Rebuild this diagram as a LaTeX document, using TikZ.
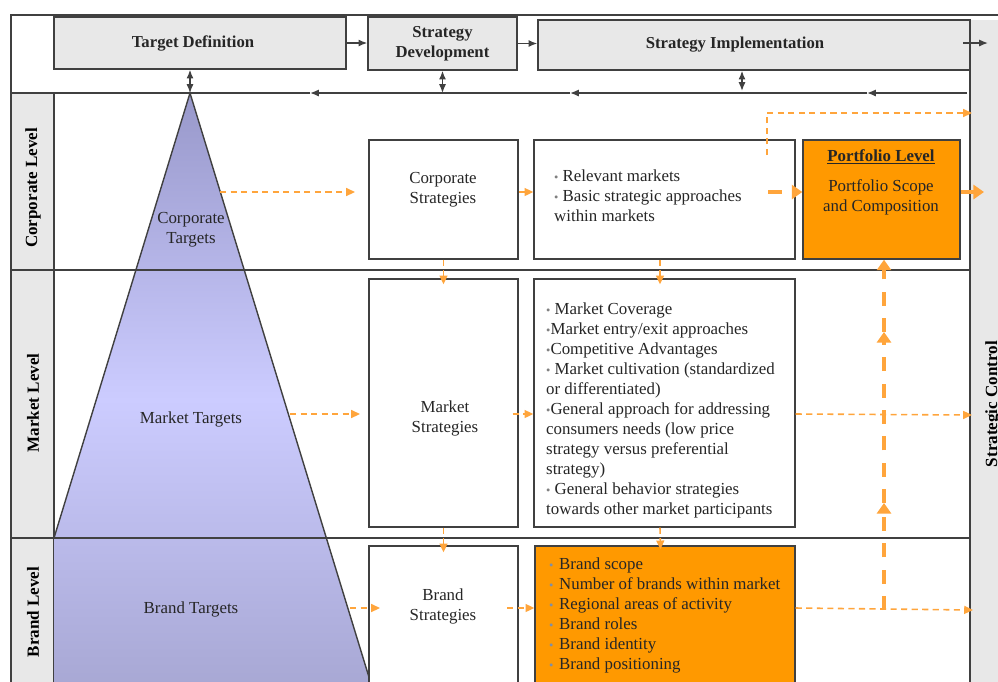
\documentclass[tikz,border=0pt]{standalone}
\usepackage{fontspec}
\setmainfont{Liberation Serif}
\usepackage{tikz}
\usetikzlibrary{arrows.meta,positioning}

\definecolor{hdrgray}{HTML}{E8E8E8}
\definecolor{linegray}{HTML}{404040}
\definecolor{boxorange}{HTML}{FF9900}
\definecolor{floworange}{HTML}{FFA53C}
\definecolor{dotgray}{HTML}{7F8FA6}
\definecolor{txtgray}{HTML}{262626}
\definecolor{pyrtop}{HTML}{9898CA}
\definecolor{pyrmid}{HTML}{CCCCFF}
\definecolor{pyrbot}{HTML}{A6A6D2}

\newcommand{\bdot}{{\color{gray}\scriptsize\textbullet}}
\newcommand{\bitem}{\makebox[0.2cm][l]{\color{dotgray}\scriptsize\textbullet}}

\begin{document}
\begin{tikzpicture}[
        x=0.02cm, y=-0.02cm,
        >={Latex[length=5pt,width=4pt]},
        font=\fontsize{9.6}{11.38}\selectfont,
        every node/.style={text=txtgray},
        rule/.style={draw=linegray, line width=0.8pt},
        wire/.style={color=linegray, line width=0.8pt},
        head/.style={rule, fill=hdrgray, align=center, inner sep=0pt, font=\fontsize{9.5}{11.38}\selectfont\bfseries},
        box/.style={rule, fill=white, inner sep=0pt},
        obox/.style={box, fill=boxorange},
        side/.style={rotate=90, font=\fontsize{9.7}{11.38}\selectfont\bfseries, text=black},
        flow/.style={draw=floworange, line width=0.9pt, dash pattern=on 3.5pt off 2.5pt,
            -{Triangle[length=5pt,width=4.5pt,fill=floworange]}},
        bigflow/.style={draw=floworange, line width=2.3pt, dash pattern=on 8pt off 7pt,
            -{Triangle[length=6pt,width=8pt,fill=floworange]}}
        ]
        \path[use as bounding box] (0,0) rectangle (998,681);
        \clip (0,0) rectangle (998,681);

        % frame and level columns
        \fill[hdrgray] (11,93) rectangle (54,700);
        \fill[hdrgray] (970,20) rectangle (1010,700);
        \draw[rule] (11,700) -- (11,15) -- (1010,15);
        \draw[rule] (54,93) -- (54,700);
        \draw[rule] (970,20) -- (970,700);

        % target pyramid
        \coordinate (apex) at (190,93);
        \begin{scope}
            \clip (apex) -- (54,538) -- (54,700) -- (376,700) -- cycle;
            \shade[top color=pyrtop, bottom color=pyrmid] (0,93) rectangle (400,400);
            \shade[top color=pyrmid, bottom color=pyrbot] (0,399) rectangle (400,700);
        \end{scope}
        \draw[rule] (54,538) -- (apex) -- (376,700);
        \node[align=center] (ct) at (191,230) {Corporate\\Targets};
        \node (mt) at (191,419) {Market Targets};
        \node (bt) at (191,609) {Brand Targets};

        % level dividers
        \draw[rule] (11,270) -- (970,270);
        \draw[rule] (11,538) -- (970,538);

        \node[side] (cl) at (33,188) {Corporate Level};
        \node[side] (ml0) at (33,403) {Market Level};
        \node[side] (bl0) at (33,612) {Brand Level};
        \node[side] (sc) at (993,404) {Strategic Control};

        % process header
        \node[head, minimum width=5.84cm, minimum height=1.04cm,
              label={[font=\fontsize{9.5}{11.38}\selectfont\bfseries, xshift=-0.14cm]center:Target Definition}]
              (td) at (200,43) {};
        \node[head, minimum width=2.98cm, minimum height=1.06cm] (sd) at (442.5,43.5) {Strategy\\Development};
        \node[head, minimum width=8.64cm, minimum height=1.0cm,
              label={[font=\fontsize{9.5}{11.38}\selectfont\bfseries, xshift=-0.38cm]center:Strategy Implementation}]
              (si) at (754,45) {};

        % feedback line
        \coordinate (fb0) at (967,93);
        \coordinate (fb1) at (867,93);
        \coordinate (fb2) at (570,93);
        \coordinate (fb3) at (310,93);
        \coordinate (fb4) at (11,93);
        \coordinate (fbs) at (742,91);
        \coordinate (sio0) at (963,43);
        \coordinate (sio1) at (988,43);
        \draw[rule] (fb3) -- (fb4);
        \path[wire, ->]
              (fb0) edge (fb1)
              (fb1) edge (fb2)
              (fb2) edge (fb3)
              (td.east) edge (td.east -| sd.west)
              (sd.east) edge (sd.east -| si.west)
              (sio0) edge (sio1);
        \path[wire, <->]
              (apex |- td.south) edge (apex)
              (sd.south) edge (sd.south |- apex)
              (fbs |- si.south) edge (fbs);

        % strategy boxes
        \node[box, minimum width=2.98cm, minimum height=2.38cm] (cs) at (443.5,199.5) {};
        \node[box, minimum width=5.22cm, minimum height=2.38cm] (rm) at (664.5,199.5) {};
        \node[obox, minimum width=3.14cm, minimum height=2.38cm] (pf) at (881.5,199.5) {};
        \node[box, minimum width=2.98cm, minimum height=4.96cm] (ms) at (443.5,403) {};
        \node[box, minimum width=5.22cm, minimum height=4.96cm] (mk) at (664.5,403) {};
        \node[box, minimum width=2.98cm, minimum height=3.48cm] (bs) at (443.5,633) {};
        \node[obox, minimum width=5.2cm, minimum height=3.48cm] (bl) at (665,633) {};

        \node[align=center] at (443,190) {Corporate\\Strategies};
        \node[align=center] at (445,418) {Market\\Strategies};
        \node[align=center] at (443,606) {Brand\\Strategies};
        \node[anchor=west, align=left] at (548,196)
              {\bdot\ Relevant markets\\\bdot\ Basic strategic approaches\\within markets};
        \node[anchor=west, align=left] at (540,410)
              {\bdot\ Market Coverage\\
               \bdot Market entry/exit approaches\\
               \bdot Competitive Advantages\\
               \bdot\ Market cultivation (standardized\\
               or differentiated)\\
               \bdot General approach for addressing\\
               consumers needs (low price\\
               strategy versus preferential\\
               strategy)\\
               \bdot\ General behavior strategies\\
               towards other market participants};
        \node[anchor=west, align=left] at (543,615)
              {\bitem Brand scope\\
               \bitem Number of brands within market\\
               \bitem Regional areas of activity\\
               \bitem Brand roles\\
               \bitem Brand identity\\
               \bitem Brand positioning};
        \node (pft) at (881,157) {\textbf{\underline{Portfolio Level}}};
        \node[align=center, below=0.04cm of pft] {Portfolio Scope\\and Composition};

        % flows
        \coordinate (ctout) at (220,192);
        \coordinate (csin) at (355,192);
        \coordinate (rmout) at (768,192);
        \coordinate (rmup) at (767,155);
        \coordinate (scin0) at (972,113);
        \coordinate (scin1) at (984,192);
        \coordinate (mtout) at (290,414);
        \coordinate (mtin) at (360,414);
        \coordinate (scin2) at (972,415);
        \coordinate (btout) at (350,608);
        \coordinate (btin) at (380,608);
        \coordinate (bsout) at (507,608);
        \coordinate (scin3) at (973,610);
        \coordinate (up0) at (884,610);
        \coordinate (up1) at (884,503);
        \coordinate (up2) at (884,332);

        \draw[flow] (ctout) -- (csin);
        \draw[flow] (cs.east |- csin) -- (rm.west |- csin);
        \draw[flow] (rmup) |- (scin0);
        \draw[flow] (cs.south) -- ([yshift=-0.12cm]ms.north);
        \draw[flow] ([xshift=-0.09cm]rm.south) -- ([xshift=-0.09cm,yshift=-0.12cm]mk.north);
        \draw[flow] (mtout) -- (mtin);
        \draw[flow] ([xshift=-0.12cm]ms.east |- mtout) -- (mk.west |- mtout);
        \draw[flow] (mk.east |- mtout) -- (scin2);
        \draw[flow] (ms.south) -- ([yshift=-0.14cm]bs.north);
        \draw[flow] ([xshift=-0.09cm]mk.south) -- ([xshift=-0.09cm,yshift=-0.08cm]bl.north);
        \draw[flow] (btout) -- (btin);
        \draw[flow] (bsout) -- (bl.west |- bsout);
        \draw[flow] (bl.east |- btout) -- (scin3);

        \draw[bigflow] (rmout) -- (rmout -| pf.west);
        \draw[bigflow] (pf.east |- rmout) -- (scin1);
        \draw[bigflow] (up0) -- (up1);
        \draw[bigflow] (up1) -- (up2);
        \draw[bigflow] (up2) -- (up0 |- pf.south);
\end{tikzpicture}
\end{document}
